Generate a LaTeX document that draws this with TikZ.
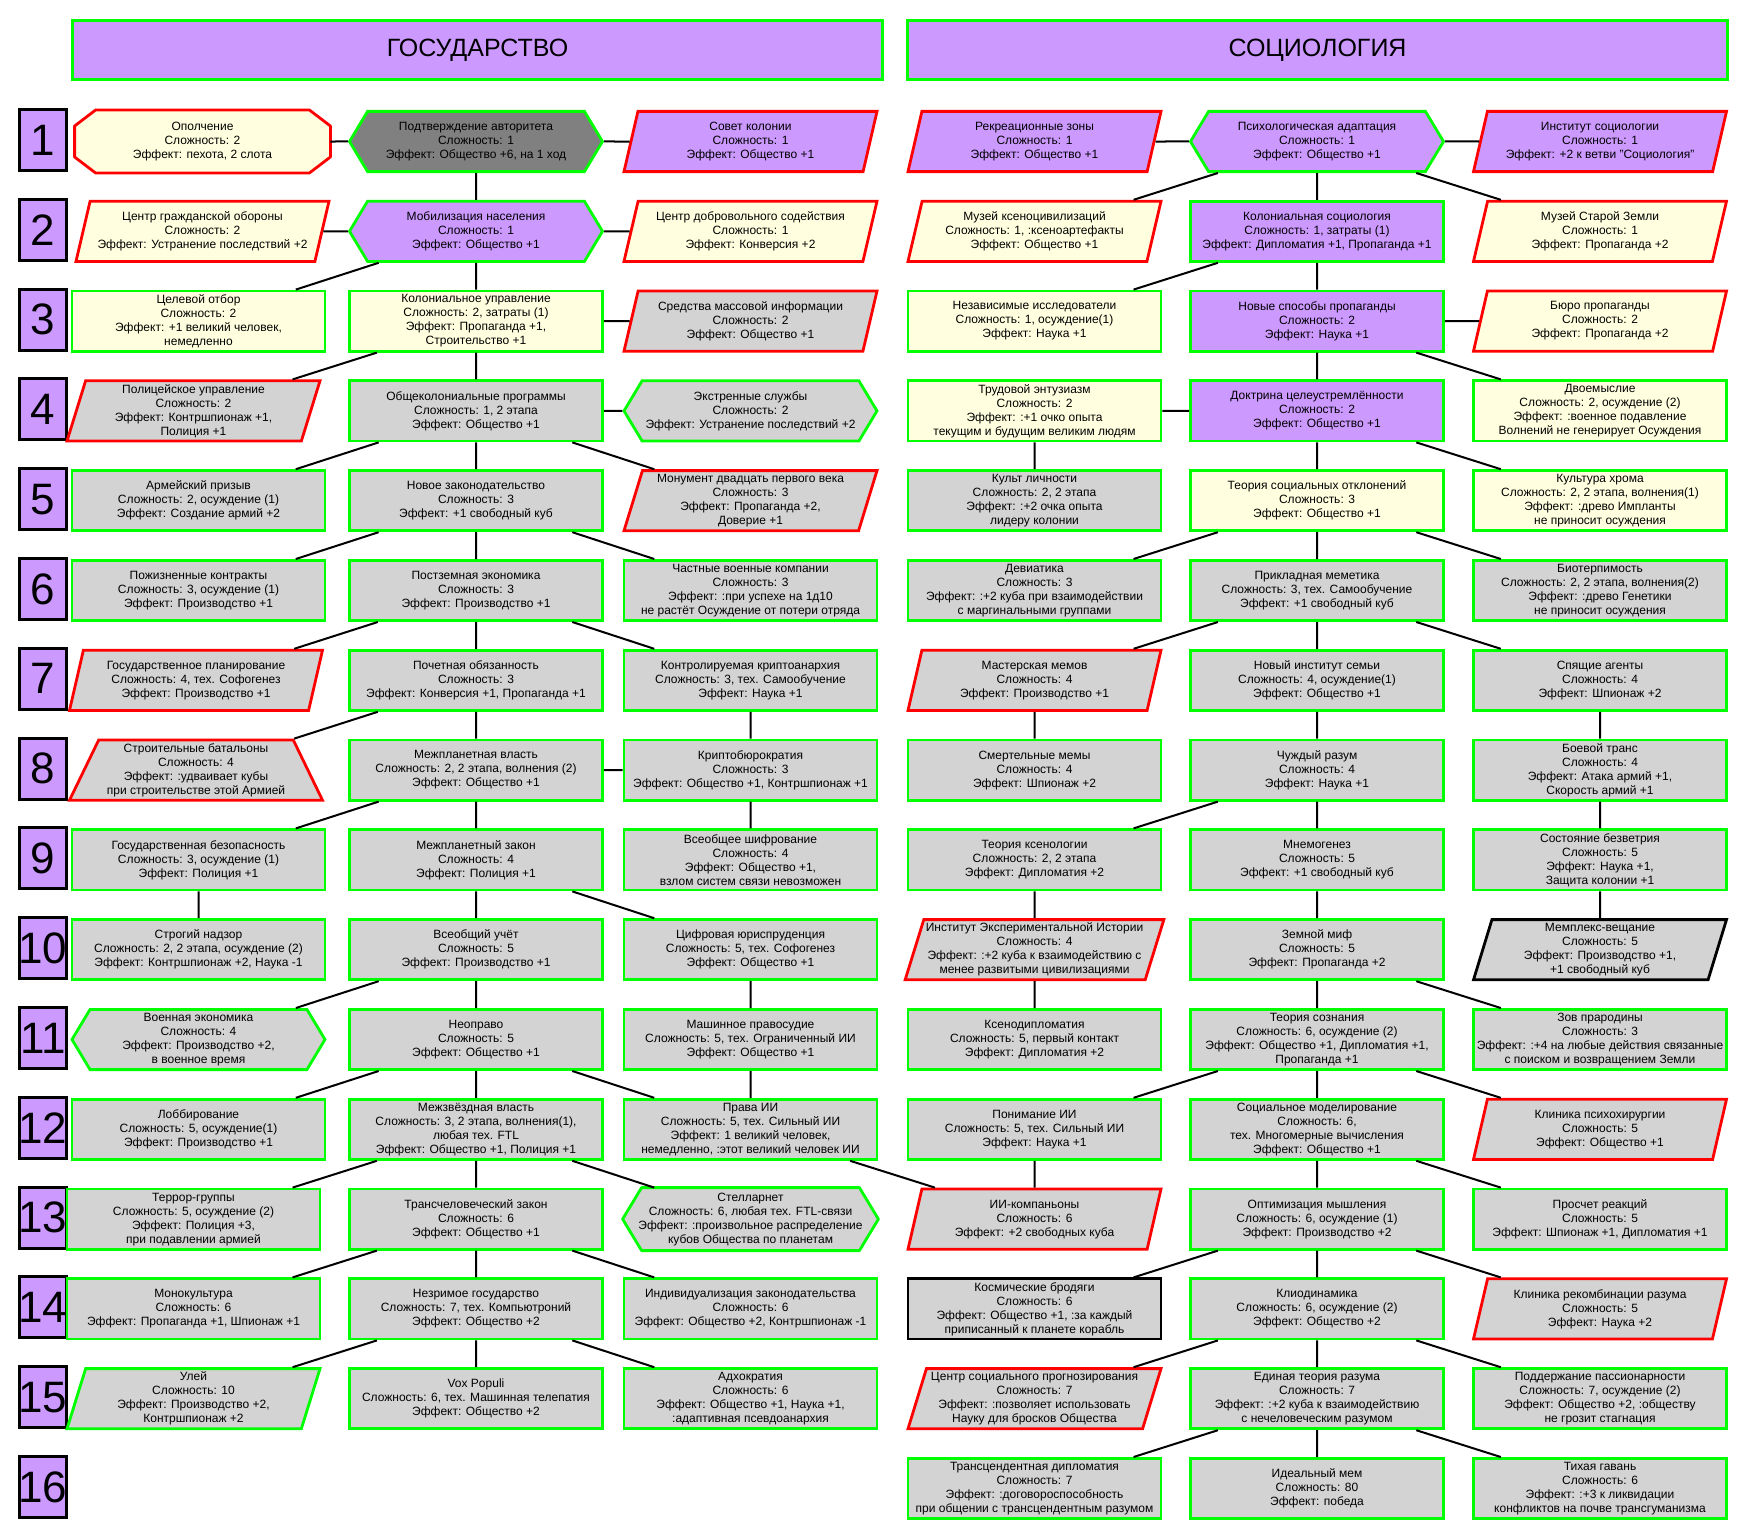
\documentclass[tikz,border=0pt]{standalone}
\usepackage{fontspec}
\setmainfont{Liberation Sans}
\usepackage{tikz}
\usetikzlibrary{shapes.geometric,shapes.symbols,backgrounds}

\definecolor{lilac}{HTML}{CC99FF}
\definecolor{cream}{HTML}{FFFFE0}
\definecolor{ash}{HTML}{D3D3D3}
\definecolor{slate}{HTML}{808080}
\definecolor{okgreen}{HTML}{00FF00}
\definecolor{alarm}{HTML}{FF0000}

\tikzset{
	tech/.style={line width=1.4pt, inner sep=1pt, align=center, text=black,
		font=\fontsize{6}{7}\selectfont, minimum width=126.5pt, minimum height=30.1pt},
	rbox/.style={tech, rectangle},
	hexa/.style={tech, signal, signal to=west and east, signal pointer angle=118},
	slant/.style={tech, trapezium, trapezium left angle=72, trapezium right angle=108, trapezium stretches body},
	trap/.style={tech, trapezium, trapezium left angle=63, trapezium right angle=63, trapezium stretches body},
	ok/.style={draw=okgreen},
	bad/.style={draw=alarm},
	dark/.style={draw=black},
	outline/.style={line width=1.4pt, line join=round},
	head/.style={draw=okgreen, fill=lilac, line width=1.4pt, minimum height=29.5pt, font=\fontsize{12.5}{15}\selectfont},
	numbox/.style={draw=black, fill=lilac, line width=1.5pt, inner sep=0pt, minimum width=23.5pt, minimum height=30.5pt, font=\fontsize{22}{26}\selectfont},
	link/.style={line width=1pt}
}

\begin{document}
\begin{tikzpicture}[x=0.5pt, y=-0.5pt]
				\useasboundingbox (0, 0) rectangle (1749, 1536);
				% Headers:
				\node[head, minimum width=405pt] (gos) at (477.5, 50){ГОСУДАРСТВО};
				\node[head, minimum width=410pt] (soc) at (1317.5, 50){СОЦИОЛОГИЯ};
				% Row numbers:
				\foreach \n in {1,...,16}
					\node[numbox] (num\n) at (43, {140+(\n-1)*89.8}){\makebox[0pt]{\n}};
				% Государство, nodes:
				\node[rbox] (A1) at (202.5, 141.5){Ополчение\\Сложность: 2\\Эффект: пехота, 2 слота};
				\node[hexa, fill=slate, ok] (B1) at (476, 141.5){Подтверждение авторитета\\Сложность: 1\\Эффект: Общество +6, на 1 ход};
				\node[slant, fill=lilac, bad] (C1) at (750.5, 141.5){Совет колонии\\Сложность: 1\\Эффект: Общество +1};
				\node[slant, fill=cream, bad] (A2) at (202.5, 231.3){Центр гражданской обороны\\Сложность: 2\\Эффект: Устранение последствий +2};
				\node[hexa, fill=lilac, ok] (B2) at (476, 231.3){Мобилизация населения\\Сложность: 1\\Эффект: Общество +1};
				\node[slant, fill=cream, bad] (C2) at (750.5, 231.3){Центр добровольного содействия\\Сложность: 1\\Эффект: Конверсия +2};
				\node[rbox, fill=cream, ok] (A3) at (198.5, 321.1){Целевой отбор\\Сложность: 2\\Эффект: +1 великий человек,\\немедленно};
				\node[rbox, fill=cream, ok] (B3) at (476, 321.1){Колониальное управление\\Сложность: 2, затраты (1)\\Эффект: Пропаганда +1,\\Строительство +1};
				\node[slant, fill=ash, bad] (C3) at (750.5, 321.1){Средства массовой информации\\Сложность: 2\\Эффект: Общество +1};
				\node[slant, fill=ash, bad] (A4) at (193.5, 410.9){Полицейское управление\\Сложность: 2\\Эффект: Контршпионаж +1,\\Полиция +1};
				\node[rbox, fill=ash, ok] (B4) at (476, 410.9){Общеколониальные программы\\Сложность: 1, 2 этапа\\Эффект: Общество +1};
				\node[hexa, fill=ash, ok] (C4) at (750.5, 410.9){Экстренные службы\\Сложность: 2\\Эффект: Устранение последствий +2};
				\node[rbox, fill=ash, ok] (A5) at (198.5, 500.7){Армейский призыв\\Сложность: 2, осуждение (1)\\Эффект: Создание армий +2};
				\node[rbox, fill=ash, ok] (B5) at (476, 500.7){Новое законодательство\\Сложность: 3\\Эффект: +1 свободный куб};
				\node[slant, fill=ash, bad] (C5) at (750.5, 500.7){Монумент двадцать первого века\\Сложность: 3\\Эффект: Пропаганда +2,\\Доверие +1};
				\node[rbox, fill=ash, ok] (A6) at (198.5, 590.5){Пожизненные контракты\\Сложность: 3, осуждение (1)\\Эффект: Производство +1};
				\node[rbox, fill=ash, ok] (B6) at (476, 590.5){Постземная экономика\\Сложность: 3\\Эффект: Производство +1};
				\node[rbox, fill=ash, ok] (C6) at (750.5, 590.5){Частные военные компании\\Сложность: 3\\Эффект: :при успехе на 1д10\\не растёт Осуждение от потери отряда};
				\node[slant, fill=ash, bad] (A7) at (196, 680.3){Государственное планирование\\Сложность: 4, тех. Софогенез\\Эффект: Производство +1};
				\node[rbox, fill=ash, ok] (B7) at (476, 680.3){Почетная обязанность\\Сложность: 3\\Эффект: Конверсия +1, Пропаганда +1};
				\node[rbox, fill=ash, ok] (C7) at (750.5, 680.3){Контролируемая криптоанархия\\Сложность: 3, тех. Самообучение\\Эффект: Наука +1};
				\node[trap, fill=ash, bad] (A8) at (196, 770.1){Строительные батальоны\\Сложность: 4\\Эффект: :удваивает кубы\\при строительстве этой Армией};
				\node[rbox, fill=ash, ok] (B8) at (476, 770.1){Межпланетная власть\\Сложность: 2, 2 этапа, волнения (2)\\Эффект: Общество +1};
				\node[rbox, fill=ash, ok] (C8) at (750.5, 770.1){Криптобюрократия\\Сложность: 3\\Эффект: Общество +1, Контршпионаж +1};
				\node[rbox, fill=ash, ok] (A9) at (198.5, 859.9){Государственная безопасность\\Сложность: 3, осуждение (1)\\Эффект: Полиция +1};
				\node[rbox, fill=ash, ok] (B9) at (476, 859.9){Межпланетный закон\\Сложность: 4\\Эффект: Полиция +1};
				\node[rbox, fill=ash, ok] (C9) at (750.5, 859.9){Всеобщее шифрование\\Сложность: 4\\Эффект: Общество +1,\\взлом систем связи невозможен};
				\node[rbox, fill=ash, ok] (A10) at (198.5, 949.7){Строгий надзор\\Сложность: 2, 2 этапа, осуждение (2)\\Эффект: Контршпионаж +2, Наука -1};
				\node[rbox, fill=ash, ok] (B10) at (476, 949.7){Всеобщий учёт\\Сложность: 5\\Эффект: Производство +1};
				\node[rbox, fill=ash, ok] (C10) at (750.5, 949.7){Цифровая юриспруденция\\Сложность: 5, тех. Софогенез\\Эффект: Общество +1};
				\node[hexa, fill=ash, ok] (A11) at (198.5, 1039.5){Военная экономика\\Сложность: 4\\Эффект: Производство +2,\\в военное время};
				\node[rbox, fill=ash, ok] (B11) at (476, 1039.5){Неоправо\\Сложность: 5\\Эффект: Общество +1};
				\node[rbox, fill=ash, ok] (C11) at (750.5, 1039.5){Машинное правосудие\\Сложность: 5, тех. Ограниченный ИИ\\Эффект: Общество +1};
				\node[rbox, fill=ash, ok] (A12) at (198.5, 1129.3){Лоббирование\\Сложность: 5, осуждение(1)\\Эффект: Производство +1};
				\node[rbox, fill=ash, ok] (B12) at (476, 1129.3){Межзвёздная власть\\Сложность: 3, 2 этапа, волнения(1),\\любая тех. FTL\\Эффект: Общество +1, Полиция +1};
				\node[rbox, fill=ash, ok] (C12) at (750.5, 1129.3){Права ИИ\\Сложность: 5, тех. Сильный ИИ\\Эффект: 1 великий человек,\\немедленно, :этот великий человек ИИ};
				\node[rbox, fill=ash, ok] (A13) at (193.5, 1219.1){Террор-группы\\Сложность: 5, осуждение (2)\\Эффект: Полиция +3,\\при подавлении армией};
				\node[rbox, fill=ash, ok] (B13) at (476, 1219.1){Трансчеловеческий закон\\Сложность: 6\\Эффект: Общество +1};
				\node[rbox] (C13) at (750.5, 1219.1){Стелларнет\\Сложность: 6, любая тех. FTL-связи\\Эффект: :произвольное распределение\\кубов Общества по планетам};
				\node[rbox, fill=ash, ok] (A14) at (193.5, 1308.9){Монокультура\\Сложность: 6\\Эффект: Пропаганда +1, Шпионаж +1};
				\node[rbox, fill=ash, ok] (B14) at (476, 1308.9){Незримое государство\\Сложность: 7, тех. Компьютроний\\Эффект: Общество +2};
				\node[rbox, fill=ash, ok] (C14) at (750.5, 1308.9){Индивидуализация законодательства\\Сложность: 6\\Эффект: Общество +2, Контршпионаж -1};
				\node[slant, fill=ash, ok] (A15) at (193.5, 1398.7){Улей\\Сложность: 10\\Эффект: Производство +2,\\Контршпионаж +2};
				\node[rbox, fill=ash, ok] (B15) at (476, 1398.7){Vox Populi\\Сложность: 6, тех. Машинная телепатия\\Эффект: Общество +2};
				\node[rbox, fill=ash, ok] (C15) at (750.5, 1398.7){Адхократия\\Сложность: 6\\Эффект: Общество +1, Наука +1,\\:адаптивная псевдоанархия};
				% outlines of the two odd shapes, behind their texts
				\begin{scope}[on background layer]
					\filldraw[outline, fill=cream, draw=alarm] ([xshift=10.5pt]A1.north west) -- ([xshift=-10.5pt]A1.north east) -- ([yshift=-8pt]A1.north east) -- ([yshift=8pt]A1.south east) -- ([xshift=-10.5pt]A1.south east) -- ([xshift=10.5pt]A1.south west) -- ([yshift=8pt]A1.south west) -- ([yshift=-8pt]A1.north west) -- cycle;
					\filldraw[outline, fill=ash, draw=okgreen] ([xshift=9.5pt]C13.north west) -- ([xshift=-9.5pt]C13.north east) -- (C13.east) -- ([xshift=-9.5pt]C13.south east) -- ([xshift=9.5pt]C13.south west) -- (C13.west) -- cycle;
				\end{scope}
				% Социология, nodes:
				\node[slant, fill=lilac, bad] (D1) at (1034.5, 141.5){Рекреационные зоны\\Сложность: 1\\Эффект: Общество +1};
				\node[hexa, fill=lilac, ok] (E1) at (1317, 141.5){Психологическая адаптация\\Сложность: 1\\Эффект: Общество +1};
				\node[slant, fill=lilac, bad] (F1) at (1600, 141.5){Институт социологии\\Сложность: 1\\Эффект: +2 к ветви "Социология"};
				\node[slant, fill=cream, bad] (D2) at (1034.5, 231.3){Музей ксеноцивилизаций\\Сложность: 1, :ксеноартефакты\\Эффект: Общество +1};
				\node[rbox, fill=lilac, ok] (E2) at (1317, 231.3){Колониальная социология\\Сложность: 1, затраты (1)\\Эффект: Дипломатия +1, Пропаганда +1};
				\node[slant, fill=cream, bad] (F2) at (1600, 231.3){Музей Старой Земли\\Сложность: 1\\Эффект: Пропаганда +2};
				\node[rbox, fill=cream, ok] (D3) at (1034.5, 321.1){Независимые исследователи\\Сложность: 1, осуждение(1)\\Эффект: Наука +1};
				\node[rbox, fill=lilac, ok] (E3) at (1317, 321.1){Новые способы пропаганды\\Сложность: 2\\Эффект: Наука +1};
				\node[slant, fill=cream, bad] (F3) at (1600, 321.1){Бюро пропаганды\\Сложность: 2\\Эффект: Пропаганда +2};
				\node[rbox, fill=cream, ok] (D4) at (1034.5, 410.9){Трудовой энтузиазм\\Сложность: 2\\Эффект: :+1 очко опыта\\текущим и будущим великим людям};
				\node[rbox, fill=lilac, ok] (E4) at (1317, 410.9){Доктрина целеустремлённости\\Сложность: 2\\Эффект: Общество +1};
				\node[rbox, fill=cream, ok] (F4) at (1600, 410.9){Двоемыслие\\Сложность: 2, осуждение (2)\\Эффект: :военное подавление\\Волнений не генерирует Осуждения};
				\node[rbox, fill=ash, ok] (D5) at (1034.5, 500.7){Культ личности\\Сложность: 2, 2 этапа\\Эффект: :+2 очка опыта\\лидеру колонии};
				\node[rbox, fill=cream, ok] (E5) at (1317, 500.7){Теория социальных отклонений\\Сложность: 3\\Эффект: Общество +1};
				\node[rbox, fill=cream, ok] (F5) at (1600, 500.7){Культура хрома\\Сложность: 2, 2 этапа, волнения(1)\\Эффект: :древо Импланты\\не приносит осуждения};
				\node[rbox, fill=ash, ok] (D6) at (1034.5, 590.5){Девиатика\\Сложность: 3\\Эффект: :+2 куба при взаимодействии\\с маргинальными группами};
				\node[rbox, fill=ash, ok] (E6) at (1317, 590.5){Прикладная меметика\\Сложность: 3, тех. Самообучение\\Эффект: +1 свободный куб};
				\node[rbox, fill=ash, ok] (F6) at (1600, 590.5){Биотерпимость\\Сложность: 2, 2 этапа, волнения(2)\\Эффект: :древо Генетики\\не приносит осуждения};
				\node[slant, fill=ash, bad] (D7) at (1034.5, 680.3){Мастерская мемов\\Сложность: 4\\Эффект: Производство +1};
				\node[rbox, fill=ash, ok] (E7) at (1317, 680.3){Новый институт семьи\\Сложность: 4, осуждение(1)\\Эффект: Общество +1};
				\node[rbox, fill=ash, ok] (F7) at (1600, 680.3){Спящие агенты\\Сложность: 4\\Эффект: Шпионаж +2};
				\node[rbox, fill=ash, ok] (D8) at (1034.5, 770.1){Смертельные мемы\\Сложность: 4\\Эффект: Шпионаж +2};
				\node[rbox, fill=ash, ok] (E8) at (1317, 770.1){Чуждый разум\\Сложность: 4\\Эффект: Наука +1};
				\node[rbox, fill=ash, ok] (F8) at (1600, 770.1){Боевой транс\\Сложность: 4\\Эффект: Атака армий +1,\\Скорость армий +1};
				\node[rbox, fill=ash, ok] (D9) at (1034.5, 859.9){Теория ксенологии\\Сложность: 2, 2 этапа\\Эффект: Дипломатия +2};
				\node[rbox, fill=ash, ok] (E9) at (1317, 859.9){Мнемогенез\\Сложность: 5\\Эффект: +1 свободный куб};
				\node[rbox, fill=ash, ok] (F9) at (1600, 859.9){Состояние безветрия\\Сложность: 5\\Эффект: Наука +1,\\Защита колонии +1};
				\node[slant, fill=ash, bad] (D10) at (1034.5, 949.7){Институт Экспериментальной Истории\\Сложность: 4\\Эффект: :+2 куба к взаимодействию с\\менее развитыми цивилизациями};
				\node[rbox, fill=ash, ok] (E10) at (1317, 949.7){Земной миф\\Сложность: 5\\Эффект: Пропаганда +2};
				\node[slant, fill=ash, dark] (F10) at (1600, 949.7){Мемплекс-вещание\\Сложность: 5\\Эффект: Производство +1,\\+1 свободный куб};
				\node[rbox, fill=ash, ok] (D11) at (1034.5, 1039.5){Ксенодипломатия\\Сложность: 5, первый контакт\\Эффект: Дипломатия +2};
				\node[rbox, fill=ash, ok] (E11) at (1317, 1039.5){Теория сознания\\Сложность: 6, осуждение (2)\\Эффект: Общество +1, Дипломатия +1,\\Пропаганда +1};
				\node[rbox, fill=ash, ok] (F11) at (1600, 1039.5){Зов прародины\\Сложность: 3\\Эффект: :+4 на любые действия связанные\\с поиском и возвращением Земли};
				\node[rbox, fill=ash, ok] (D12) at (1034.5, 1129.3){Понимание ИИ\\Сложность: 5, тех. Сильный ИИ\\Эффект: Наука +1};
				\node[rbox, fill=ash, ok] (E12) at (1317, 1129.3){Социальное моделирование\\Сложность: 6,\\тех. Многомерные вычисления\\Эффект: Общество +1};
				\node[slant, fill=ash, bad] (F12) at (1600, 1129.3){Клиника психохирургии\\Сложность: 5\\Эффект: Общество +1};
				\node[slant, fill=ash, bad] (D13) at (1034.5, 1219.1){ИИ-компаньоны\\Сложность: 6\\Эффект: +2 свободных куба};
				\node[rbox, fill=ash, ok] (E13) at (1317, 1219.1){Оптимизация мышления\\Сложность: 6, осуждение (1)\\Эффект: Производство +2};
				\node[rbox, fill=ash, ok] (F13) at (1600, 1219.1){Просчет реакций\\Сложность: 5\\Эффект: Шпионаж +1, Дипломатия +1};
				\node[rbox, fill=ash, dark] (D14) at (1034.5, 1308.9){Космические бродяги\\Сложность: 6\\Эффект: Общество +1, :за каждый\\приписанный к планете корабль};
				\node[rbox, fill=ash, ok] (E14) at (1317, 1308.9){Клиодинамика\\Сложность: 6, осуждение (2)\\Эффект: Общество +2};
				\node[slant, fill=ash, bad] (F14) at (1600, 1308.9){Клиника рекомбинации разума\\Сложность: 5\\Эффект: Наука +2};
				\node[slant, fill=ash, bad] (D15) at (1034.5, 1398.7){Центр социального прогнозирования\\Сложность: 7\\Эффект: :позволяет использовать\\Науку для бросков Общества};
				\node[rbox, fill=ash, ok] (E15) at (1317, 1398.7){Единая теория разума\\Сложность: 7\\Эффект: :+2 куба к взаимодействию\\с нечеловеческим разумом};
				\node[rbox, fill=ash, ok] (F15) at (1600, 1398.7){Поддержание пассионарности\\Сложность: 7, осуждение (2)\\Эффект: Общество +2, :обществу\\не грозит стагнация};
				\node[rbox, fill=ash, ok] (D16) at (1034.5, 1488.5){Трансцендентная дипломатия\\Сложность: 7\\Эффект: :договороспособность\\при общении с трансцендентным разумом};
				\node[rbox, fill=ash, ok] (E16) at (1317, 1488.5){Идеальный мем\\Сложность: 80\\Эффект: победа};
				\node[rbox, fill=ash, ok] (F16) at (1600, 1488.5){Тихая гавань\\Сложность: 6\\Эффект: :+3 к ликвидации\\конфликтов на почве трансгуманизма};
				% Государство, links:
				\draw[link] (A1) -- (B1) (B1) -- (C1) (B1) -- (B2);
				\draw[link] (A2) -- (B2) (B2) -- (C2) (B2) -- (A3) (B2) -- (B3);
				\draw[link] (B3) -- (C3) (B3) -- (A4) (B3) -- (B4);
				\draw[link] (B4) -- (C4) (B4) -- (A5) (B4) -- (B5) (B4) -- (C5);
				\draw[link] (B5) -- (A6) (B5) -- (B6) (B5) -- (C6);
				\draw[link] (B6) -- (A7) (B6) -- (B7) (B6) -- (C7);
				\draw[link] (B7) -- (A8) (B7) -- (B8) (C7) -- (C8);
				\draw[link] (B8) -- (C8) (B8) -- (A9) (B8) -- (B9) (C8) -- (C9);
				\draw[link] (A9) -- (A10) (B9) -- (B10) (B9) -- (C10);
				\draw[link] (B10) -- (A11) (B10) -- (B11) (C10) -- (C11);
				\draw[link] (B11) -- (A12) (B11) -- (B12) (B11) -- (C12) (C11) -- (C12);
				\draw[link] (B12) -- (A13) (B12) -- (B13) (B12) -- (C13) (C12) -- (D13);
				\draw[link] (B13) -- (A14) (B13) -- (B14) (B13) -- (C14);
				\draw[link] (B14) -- (A15) (B14) -- (B15) (B14) -- (C15);
				% Социология, links:
				\draw[link] (D1) -- (E1) (E1) -- (F1) (E1) -- (D2) (E1) -- (E2) (E1) -- (F2);
				\draw[link] (E2) -- (D3) (E2) -- (E3);
				\draw[link] (E3) -- (F3) (E3) -- (E4) (E3) -- (F4);
				\draw[link] (D4) -- (E4) (D4) -- (D5) (E4) -- (E5) (E4) -- (F5);
				\draw[link] (E5) -- (D6) (E5) -- (E6) (E5) -- (F6);
				\draw[link] (E6) -- (D7) (E6) -- (E7) (E6) -- (F7);
				\draw[link] (D7) -- (D8) (E7) -- (E8) (F7) -- (F8);
				\draw[link] (E8) -- (D9) (E8) -- (E9) (F8) -- (F9);
				\draw[link] (D9) -- (D10) (E9) -- (E10) (F9) -- (F10);
				\draw[link] (D10) -- (D11) (E10) -- (E11) (E10) -- (F11);
				\draw[link] (E11) -- (D12) (E11) -- (E12) (E11) -- (F12);
				\draw[link] (D12) -- (D13) (E12) -- (E13) (E12) -- (F13);
				\draw[link] (E13) -- (D14) (E13) -- (E14) (E13) -- (F14);
				\draw[link] (E14) -- (D15) (E14) -- (E15) (E14) -- (F15);
				\draw[link] (E15) -- (D16) (E15) -- (E16) (E15) -- (F16);
			\end{tikzpicture}
\end{document}
